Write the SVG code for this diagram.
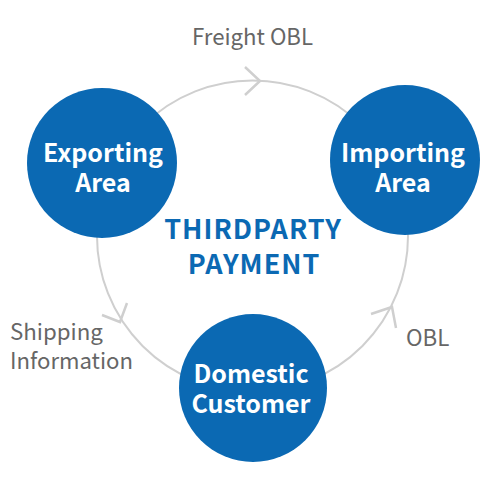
<svg xmlns="http://www.w3.org/2000/svg" width="499" height="488" viewBox="0 0 499 488">
<style>
.ring{fill:none;stroke:#cfcfcf;stroke-width:2}
.chev{fill:none;stroke:#cfcfcf;stroke-width:2.5;stroke-linecap:butt}
.node{fill:#0b69b3}
.nt{font-family:"Noto Sans CJK KR","Noto Sans",sans-serif;font-weight:700;font-size:25px;fill:#fff;text-anchor:middle}
.lab{font-family:"Noto Sans CJK KR","Noto Sans",sans-serif;font-size:22.3px;fill:#666}
.ct{font-family:"Noto Sans CJK KR","Noto Sans",sans-serif;font-weight:700;font-size:27px;fill:#0b69b3;text-anchor:middle;letter-spacing:1px}
</style>
<rect width="499" height="488" fill="#fff"/>
<g id="connectors">
<circle class="ring" cx="252.5" cy="236" r="155.5"/>
<polyline class="chev" points="245,67 260,81 245,95"/>
<polyline class="chev" points="102,315 120,322 127,303"/>
<polyline class="chev" points="371,314 392,307 396,328"/>
</g>
<g id="labels">
<text class="lab" x="192" y="45" textLength="121" lengthAdjust="spacingAndGlyphs">Freight OBL</text>
<text class="lab" x="10" y="340">Shipping</text>
<text class="lab" x="10" y="369" textLength="123" lengthAdjust="spacingAndGlyphs">Information</text>
<text class="lab" x="406" y="346">OBL</text>
</g>
<g id="center">
<text class="ct" x="253" y="239">THIRDPARTY</text>
<text class="ct" x="254" y="274">PAYMENT</text>
</g>
<g id="exporting">
<circle class="node" cx="102" cy="163" r="75"/>
<text class="nt" x="103" y="162">Exporting</text>
<text class="nt" x="103" y="192">Area</text>
</g>
<g id="importing">
<circle class="node" cx="405" cy="160" r="75"/>
<text class="nt" x="403" y="162">Importing</text>
<text class="nt" x="403" y="192">Area</text>
</g>
<g id="domestic">
<circle class="node" cx="253" cy="388" r="74"/>
<text class="nt" x="251" y="383">Domestic</text>
<text class="nt" x="251" y="413">Customer</text>
</g>
</svg>
